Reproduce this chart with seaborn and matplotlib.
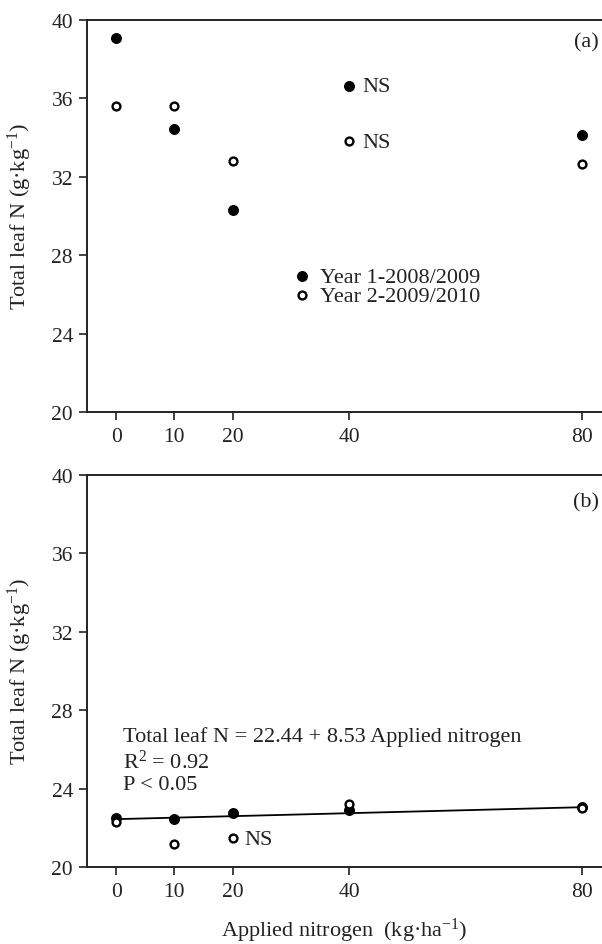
import numpy as np
import pandas as pd
import matplotlib
matplotlib.use("Agg")
import matplotlib.pyplot as plt
import seaborn as sns

# ---- data ----
nitrogen = [0, 10, 20, 40, 80]
a_year1 = [39.1, 34.45, 30.3, 36.65, 34.15]
a_year2 = [35.6, 35.6, 32.8, 33.8, 32.65]
b_year1 = [22.48, 22.45, 22.75, 22.9, 23.05]
b_year2 = [22.28, 21.17, 21.5, 23.22, 23.02]
fit_x = [0, 80]
fit_y = [22.44, 23.05]
y_ticks = [20, 24, 28, 32, 36, 40]
series_labels = ["Year 1-2008/2009", "Year 2-2009/2010"]

sns.set_theme(style="ticks")
plt.rcParams["font.family"] = ["Liberation Serif", "DejaVu Serif"]
plt.rcParams["mathtext.fontset"] = "custom"
plt.rcParams["mathtext.rm"] = "Liberation Serif"
plt.rcParams["mathtext.it"] = "Liberation Serif:italic"

FS = 16
TFS = 15.5
TXT = "#222222"
fig = plt.figure(figsize=(6.02, 9.45), dpi=100)
ax_a = fig.add_axes([0.1445, 0.563, 0.8555, 0.4148])
ax_b = fig.add_axes([0.1445, 0.0815, 0.8555, 0.4148])

def style_axes(ax):
    ax.set_xlim(-5, 83.4)
    ax.set_ylim(20, 40)
    ax.set_xticks(nitrogen)
    ax.set_yticks(y_ticks)
    ax.tick_params(axis="both", labelsize=TFS, colors=TXT, length=6, width=1.2, direction="out")
    ax.tick_params(axis="y", pad=4)
    ax.tick_params(axis="x", pad=5)
    for s in ["left", "bottom", "top"]:
        ax.spines[s].set_visible(True)
        ax.spines[s].set_linewidth(1.4)
        ax.spines[s].set_color(TXT)
    ax.spines["right"].set_visible(False)
    ax.set_ylabel("Total leaf N (g·kg$^{\\mathregular{-1}}$)", fontsize=FS, color=TXT)
    ax.yaxis.set_label_coords(-0.103, 0.5)

def draw(ax, y1, y2):
    sns.scatterplot(x=nitrogen, y=y1, ax=ax, color="black", edgecolor="black",
                    s=50, linewidth=0.8, zorder=4, label=series_labels[0])
    sns.scatterplot(x=nitrogen, y=y2, ax=ax, color="white", edgecolor="black",
                    s=32, linewidth=1.7, zorder=5, label=series_labels[1])

# panel (a)
draw(ax_a, a_year1, a_year2)
style_axes(ax_a)
ax_a.set_xlabel("")
leg = ax_a.legend(loc="center left", bbox_to_anchor=(0.40, 0.321), frameon=False,
                  fontsize=FS, handlelength=0.85, handletextpad=0.35, borderpad=0,
                  labelspacing=-0.1, borderaxespad=0)
for t in leg.get_texts():
    t.set_color(TXT)
ax_a.text(42.2, 36.6, "NS", fontsize=FS, va="center", ha="left", color=TXT)
ax_a.text(42.2, 33.75, "NS", fontsize=FS, va="center", ha="left", color=TXT)
ax_a.text(82.9, 38.88, "(a)", fontsize=FS, va="center", ha="right", color=TXT)

# panel (b)
sns.lineplot(x=fit_x, y=fit_y, ax=ax_b, color="black", linewidth=1.3, zorder=3)
draw(ax_b, b_year1, b_year2)
if ax_b.get_legend() is not None:
    ax_b.get_legend().remove()
style_axes(ax_b)
ax_b.set_xlabel("Applied nitrogen  (kg·ha$^{\\mathregular{-1}}$)", fontsize=FS, color=TXT)
ax_b.xaxis.set_label_coords(0.5, -0.124)
ax_b.text(1.2, 26.68, "Total leaf N = 22.44 + 8.53 Applied nitrogen", fontsize=FS, va="center", ha="left", color=TXT)
ax_b.text(1.2, 25.41, "R$^{\\mathregular{2}}$ = 0.92", fontsize=FS, va="center", ha="left", color=TXT)
ax_b.text(1.2, 24.23, "P < 0.05", fontsize=FS, va="center", ha="left", color=TXT)
ax_b.text(22.1, 21.38, "NS", fontsize=FS, va="center", ha="left", color=TXT)
ax_b.text(82.9, 38.62, "(b)", fontsize=FS, va="center", ha="right", color=TXT)

fig.savefig("out.png", dpi=100, facecolor="white")
